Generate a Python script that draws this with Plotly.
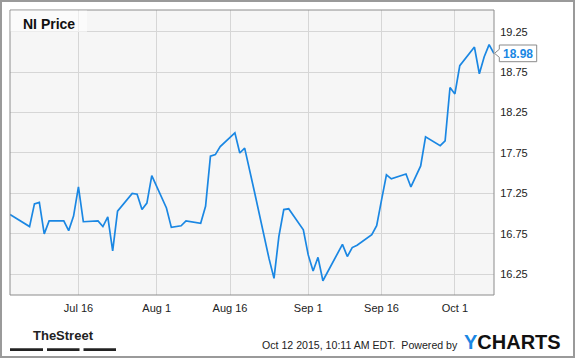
import plotly.graph_objects as go

# ---------------- data ----------------
dates = [
    "2015-07-02", "2015-07-06", "2015-07-07", "2015-07-08", "2015-07-09", "2015-07-10",
    "2015-07-13", "2015-07-14", "2015-07-15", "2015-07-16", "2015-07-17",
    "2015-07-20", "2015-07-21", "2015-07-22", "2015-07-23", "2015-07-24",
    "2015-07-27", "2015-07-28", "2015-07-29", "2015-07-30", "2015-07-31",
    "2015-08-03", "2015-08-04", "2015-08-05", "2015-08-06", "2015-08-07",
    "2015-08-10", "2015-08-11", "2015-08-12", "2015-08-13", "2015-08-14",
    "2015-08-17", "2015-08-18", "2015-08-19", "2015-08-20", "2015-08-21",
    "2015-08-24", "2015-08-25", "2015-08-26", "2015-08-27", "2015-08-28",
    "2015-08-31", "2015-09-01", "2015-09-02", "2015-09-03", "2015-09-04",
    "2015-09-08", "2015-09-09", "2015-09-10", "2015-09-11",
    "2015-09-14", "2015-09-15", "2015-09-16", "2015-09-17", "2015-09-18",
    "2015-09-21", "2015-09-22", "2015-09-23", "2015-09-24", "2015-09-25",
    "2015-09-28", "2015-09-29", "2015-09-30", "2015-10-01", "2015-10-02",
    "2015-10-05", "2015-10-06", "2015-10-07", "2015-10-08", "2015-10-09",
]
prices = [
    16.99, 16.84, 17.12, 17.14, 16.75, 16.91,
    16.91, 16.79, 16.97, 17.33, 16.90,
    16.91, 16.84, 16.96, 16.54, 17.03,
    17.25, 17.24, 17.05, 17.13, 17.47,
    17.07, 16.83, 16.84, 16.85, 16.91,
    16.88, 17.09, 17.71, 17.73, 17.83,
    18.00, 17.75, 17.81, 17.55, 17.27,
    16.44, 16.20, 16.72, 17.05, 17.06,
    16.80, 16.49, 16.29, 16.46, 16.17,
    16.62, 16.47, 16.58, 16.61,
    16.74, 16.85, 17.17, 17.48, 17.43,
    17.49, 17.33, 17.46, 17.59, 17.95,
    17.84, 17.90, 18.56, 18.48, 18.83,
    19.06, 18.73, 18.94, 19.09, 18.98,
]
x_tick_vals = ["2015-07-16", "2015-08-01", "2015-08-16", "2015-09-01", "2015-09-16", "2015-10-01"]
x_tick_text = ["Jul 16", "Aug 1", "Aug 16", "Sep 1", "Sep 16", "Oct 1"]
y_tick_vals = [16.25, 16.75, 17.25, 17.75, 18.25, 18.75, 19.25]
y_tick_text = ["16.25", "16.75", "17.25", "17.75", "18.25", "18.75", "19.25"]
series_name = "NI Price"
last_label = "18.98"
footer_text = "Oct 12 2015, 10:11 AM EDT.  Powered by"

# ---------------- layout helpers ----------------
W, H = 575, 358
L, R, T, B = 10, 81, 10, 63
PW, PH = W - L - R, H - T - B
BLUE = "#1a87e3"
FONT = "Liberation Sans, Arial, sans-serif"


def px(x):
    return (x - L) / PW


def py(y):
    return (H - B - y) / PH


fig = go.Figure()
fig.add_trace(go.Scatter(
    x=dates, y=prices, mode="lines", name=series_name,
    line=dict(color=BLUE, width=1.7), hoverinfo="skip",
))

fig.update_layout(
    width=W, height=H,
    margin=dict(l=L, r=R, t=T, b=B, pad=0),
    paper_bgcolor="white",
    plot_bgcolor="#f6f6f6",
    showlegend=False,
    font=dict(family=FONT, size=11, color="#222"),
    xaxis=dict(
        type="date", range=["2015-07-02", "2015-10-09"],
        tickvals=x_tick_vals, ticktext=x_tick_text,
        showgrid=True, gridcolor="#d6d6d6", gridwidth=1,
        zeroline=False, showline=False,
        ticks="outside", ticklen=3, tickcolor="rgba(0,0,0,0)",
        tickfont=dict(family=FONT, size=11, color="#222"),
        fixedrange=True,
    ),
    yaxis=dict(
        side="right", range=[15.994, 19.518],
        tickvals=y_tick_vals, ticktext=y_tick_text,
        showgrid=True, gridcolor="#d6d6d6", gridwidth=1,
        zeroline=False, showline=False,
        ticks="outside", ticklen=3, tickcolor="rgba(0,0,0,0)",
        tickfont=dict(family=FONT, size=11, color="#222"),
        fixedrange=True,
    ),
)

shapes = []
# outer frame
shapes.append(dict(type="rect", xref="paper", yref="paper",
                   x0=px(1), x1=px(574), y0=py(1), y1=py(357),
                   line=dict(color="#9a9a9a", width=2), fillcolor="rgba(0,0,0,0)", layer="above"))
# plot frame
shapes.append(dict(type="rect", xref="paper", yref="paper",
                   x0=0, x1=1, y0=0, y1=1,
                   line=dict(color="#8c8c8c", width=1), fillcolor="rgba(0,0,0,0)", layer="above"))
# title box
shapes.append(dict(type="rect", xref="paper", yref="paper",
                   x0=px(10.5), x1=px(87), y0=py(10.5), y1=py(32),
                   line=dict(width=0), fillcolor="rgba(255,255,255,0.55)", layer="above"))
# last value callout
bx0, bx1, by0, by1 = 499.3, 536.7, 45.0, 61.7
tipx, tipy = 494.5, 53.3
path = (f"M {px(bx0)},{py(by0)} L {px(bx1)},{py(by0)} L {px(bx1)},{py(by1)} "
        f"L {px(bx0)},{py(by1)} L {px(bx0)},{py(57.3)} L {px(tipx)},{py(tipy)} "
        f"L {px(bx0)},{py(49.3)} Z")
shapes.append(dict(type="path", xref="paper", yref="paper", path=path,
                   line=dict(color="#8a8a8a", width=1), fillcolor="white", layer="above"))
# TheStreet bars
for a, b in [(10, 43), (47, 79.5), (83.5, 116)]:
    shapes.append(dict(type="rect", xref="paper", yref="paper",
                       x0=px(a), x1=px(b), y0=py(348.3), y1=py(351),
                       line=dict(width=0), fillcolor="#222", layer="above"))
fig.update_layout(shapes=shapes)

annotations = [
    dict(xref="paper", yref="paper", x=px(21), y=py(24), xanchor="left", yanchor="middle",
         text=f"<b>{series_name}</b>", showarrow=False,
         font=dict(family=FONT, size=14, color="#111")),
    dict(xref="paper", yref="paper", x=px(518), y=py(53.5), xanchor="center", yanchor="middle",
         text=f"<b>{last_label}</b>", showarrow=False,
         font=dict(family=FONT, size=12, color=BLUE)),
    dict(xref="paper", yref="paper", x=px(459.5), y=py(345), xanchor="right", yanchor="middle",
         text=footer_text, showarrow=False,
         font=dict(family=FONT, size=10.6, color="#222")),
    dict(xref="paper", yref="paper", x=px(462), y=py(342), xanchor="left", yanchor="middle",
         text=f"<b><span style='color:{BLUE}'>Y</span>CHARTS</b>", showarrow=False,
         font=dict(family=FONT, size=20, color="#111")),
    dict(xref="paper", yref="paper", x=px(63), y=py(335), xanchor="center", yanchor="middle",
         text="<b>TheStreet</b>", showarrow=False,
         font=dict(family="Liberation Sans Narrow, Arial Narrow, Liberation Sans, sans-serif",
                   size=13, color="#222")),
]
fig.update_layout(annotations=annotations)

fig.write_html("out.html", config={"displayModeBar": False, "staticPlot": True})
